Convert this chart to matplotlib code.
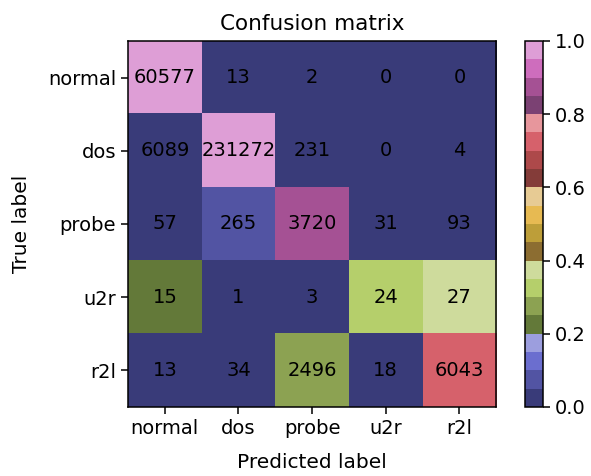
import numpy as np
import matplotlib
matplotlib.use('Agg')
import matplotlib.pyplot as plt

classes = ['normal', 'dos', 'probe', 'u2r', 'r2l']
cm = np.array([
    [60577, 13, 2, 0, 0],
    [6089, 231272, 231, 0, 4],
    [57, 265, 3720, 31, 93],
    [15, 1, 3, 24, 27],
    [13, 34, 2496, 18, 6043],
])

# colours come from the row-normalised matrix, text shows raw counts
cm_norm = cm / cm.sum(axis=1, keepdims=True)

plt.rcParams['axes.linewidth'] = 1.1
plt.rcParams['xtick.major.size'] = 5
plt.rcParams['ytick.major.size'] = 5
plt.rcParams['xtick.major.width'] = 1.1
plt.rcParams['ytick.major.width'] = 1.1

fig = plt.figure(figsize=(5.91, 4.76), dpi=100)
ax = fig.add_axes([0.2166, 0.145, 0.623, 0.769])
cax = fig.add_axes([0.888, 0.145, 0.0305, 0.769])

im = ax.imshow(cm_norm, interpolation='nearest', cmap=plt.cm.tab20b,
               vmin=0, vmax=1, aspect='auto')
ax.set_title('Confusion matrix', fontsize=15.5, pad=8)
cb = fig.colorbar(im, cax=cax)
cb.ax.tick_params(labelsize=14)

ticks = np.arange(len(classes))
ax.set_xticks(ticks)
ax.set_xticklabels(classes, fontsize=14)
ax.set_yticks(ticks)
ax.set_yticklabels(classes, fontsize=14)

for i in range(cm.shape[0]):
    for j in range(cm.shape[1]):
        ax.text(j, i, str(cm[i, j]), ha='center', va='center',
                color='black', fontsize=14)

ax.set_ylabel('True label', fontsize=14.5, labelpad=12)
ax.set_xlabel('Predicted label', fontsize=14.5, labelpad=11)

fig.savefig('out.png', dpi=100)
